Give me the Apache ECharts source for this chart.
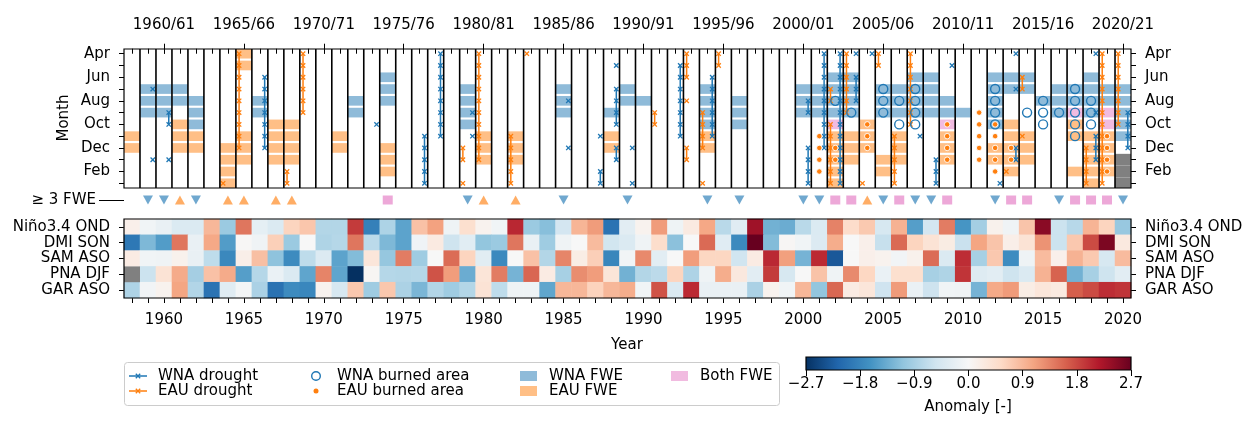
<!DOCTYPE html>
<html><head><meta charset="utf-8">
<script src="https://cdn.jsdelivr.net/npm/echarts@6/dist/echarts.min.js"></script>
<style>html,body{margin:0;padding:0;background:#fff}#c{width:1253px;height:427px}</style>
</head><body><div id="c"></div>
<script>
// ---------------- DATA ----------------
const years = [1958,1959,1960,1961,1962,1963,1964,1965,1966,1967,1968,1969,1970,1971,1972,1973,1974,1975,1976,1977,1978,1979,1980,1981,1982,1983,1984,1985,1986,1987,1988,1989,1990,1991,1992,1993,1994,1995,1996,1997,1998,1999,2000,2001,2002,2003,2004,2005,2006,2007,2008,2009,2010,2011,2012,2013,2014,2015,2016,2017,2018,2019,2020];
const seasonTicks = [1960,1965,1970,1975,1980,1985,1990,1995,2000,2005,2010,2015,2020];
const monthLabels = ['Apr','May','Jun','Jul','Aug','Sep','Oct','Nov','Dec','Jan','Feb','Mar'];
const monthTicks = [0,1,2,3,4,5,6,7,8,9,10,11];
const monthLabelTicks = [0,2,4,6,8,10];
const indexRows = ['Niño3.4 OND','DMI SON','SAM ASO','PNA DJF','GAR ASO'];
const cbTicks = [-2.7,-1.8,-0.9,0,0.9,1.8,2.7];

// month index: 0 = Apr ... 11 = Mar
const wnaFWE = [[1959,[3,4,5]],[1960,[3,4,5]],[1961,[3,4]],[1962,[4,5,6]],[1966,[4,5]],[1972,[4,5]],[1974,[2,3,4]],
  [1979,[3,4,5,6]],[1985,[3,4,5]],[1988,[5]],[1989,[3,4]],[1990,[4]],[1994,[3,4,5,6]],[1996,[4,5,6]],
  [2000,[3,4,5]],[2001,[3,4,5]],[2002,[2,3,4,5]],[2003,[2,3,4,5]],[2005,[3,4,5]],[2006,[3,4,5]],
  [2007,[2,3,4,5]],[2008,[2,3,4,5]],[2009,[4,5]],[2010,[5]],[2012,[2,3,4,5,6]],[2013,[2,3]],[2014,[2,3]],
  [2015,[4]],[2016,[3,4,5]],[2017,[3,4]],[2018,[2,3,4,5]],[2019,[3,4]],[2020,[3,4,5,6,7]]];
const eauFWE = [[1958,[7,8]],[1961,[6,7,8]],[1962,[7,8]],[1964,[8,9,10,11]],[1965,[0,1,7,8,9]],[1967,[6,7,8,9]],
  [1968,[6,7,8,9]],[1971,[7,8]],[1974,[8,9,10]],[1980,[7,8,9]],[1982,[7,8,9]],[1988,[7,8]],[1994,[7,8]],
  [2002,[7,8,9,10,11]],[2003,[7,8,9]],[2004,[6,7,8]],[2005,[9,10]],[2006,[7,8,9]],[2009,[7,8,9]],
  [2012,[8,9]],[2013,[6,7,8,9,10]],[2014,[7,8,9]],[2017,[6,7,10]],[2018,[7,8,9,10,11]],[2019,[7,8,9,10]]];
const bothFWE = [[2002,[6]],[2009,[6]],[2017,[5]],[2019,[5,6]]];
const noData = [[2020,[9,10,11]]];

// drought segments: [season, first month, last month]
const wnaDrought = [[1959,3,3],[1959,9,9],[1960,5,6],[1960,9,9],[1966,2,8],[1973,6,6],[1976,7,11],[1977,0,7],
  [1979,5,5],[1979,7,7],[1985,4,4],[1985,8,8],[1987,7,7],[1987,10,11],[1988,1,1],[1988,3,6],[1988,8,9],
  [1989,8,8],[1989,11,11],[1992,1,7],[1994,2,7],[2000,4,5],[2000,8,11],[2001,0,8],[2002,0,11],[2003,0,0],
  [2003,2,4],[2004,0,0],[2007,7,7],[2008,9,11],[2009,1,1],[2012,11,11],[2013,0,0],[2013,3,3],[2013,8,9],
  [2018,0,0],[2018,5,5],[2018,7,9],[2020,5,8]];
const eauDrought = [[1964,11,11],[1965,0,8],[1968,10,11],[1969,0,5],[1979,8,9],[1979,11,11],[1980,0,9],
  [1982,7,11],[1983,0,0],[1991,5,6],[1993,0,2],[1993,4,4],[1993,8,9],[1994,5,8],[1994,11,11],[1995,0,1],
  [2002,3,4],[2002,6,11],[2003,0,5],[2004,11,11],[2005,0,1],[2006,7,11],[2007,0,6],[2013,10,10],
  [2014,2,3],[2014,7,7],[2018,8,11],[2019,0,11],[2020,0,6]];

const wnaBurned = [[2002,[4]],[2003,[5]],[2005,[3,4,5]],[2006,[4,6]],[2007,[3,4,5,6]],[2012,[3,4,5,6]],
  [2014,[5]],[2015,[4,5,6]],[2016,[5]],[2017,[3,4,5,6,7]],[2018,[4,5,6]]];
const eauBurned = [[2001,[7,8,9,10]],[2002,[8,9]],[2004,[6,7,8]],[2009,[6,7,8,9]],[2011,[5,6,7,8,9]],
  [2012,[6,7,8,9,10]],[2013,[8,9]],[2019,[7,8,9,10]]];

const wna3 = [1959,1960,1962,1979,1985,1989,1994,1996,2000,2001,2005,2007,2008,2012,2016,2020];
const eau3 = [1961,1964,1965,1967,1968,1980,1982,2004];
const both3 = [1974,2002,2003,2006,2009,2013,2014,2017,2018,2019];

const nino = [0.15,-0.1,-0.2,-0.4,-0.4,0.9,-1.0,1.45,-0.25,-0.4,0.6,0.75,-0.8,-0.8,1.9,-1.85,-0.85,-1.45,0.8,1.1,-0.13,0.45,0.1,-0.1,2.05,-1.0,-1.15,-0.5,0.92,1.15,-2.0,-0.3,0.1,1.15,-0.13,0.25,1.05,-0.75,-0.33,2.3,-1.3,-1.35,-0.75,-0.4,1.35,0.5,0.72,-0.45,0.95,-1.5,-0.5,1.4,-1.6,-0.93,0.12,-0.12,0.77,2.45,-0.58,-0.76,0.93,0.6,-1.03];
const dmi = [-1.95,-1.22,-1.52,1.45,-0.2,1.04,-1.52,0.02,-0.12,0.65,-1.0,0,-0.83,-0.78,1.45,-0.73,-1.22,-1.45,-0.11,0.25,-0.56,-0.31,-1.07,-1.0,1.45,-0.2,-0.97,-0.12,0,0.86,-0.52,-0.4,-0.12,0.48,-1.12,0,1.54,-0.33,-1.73,2.7,-1.18,0.03,-0.1,-0.38,1.0,0,0.15,-0.63,1.54,0.6,0.38,0.22,-0.6,1.07,0.77,0.17,0.38,1.22,-0.58,0.73,1.78,2.55,0.27];
const sam = [0.23,-0.1,-0.12,0.12,-0.2,-0.7,-1.75,0.17,0.82,-1.1,-1.72,-0.7,-0.38,-1.45,-1.18,0.33,-1.05,1.4,-0.97,0,1.53,0.6,-0.31,-1.74,0,0.8,-0.8,1.33,0.2,0.66,-1.78,-0.08,1.3,-0.3,0,1.14,0.58,0.58,-0.54,0.23,2.04,1.12,-1.27,2.03,-2.3,0,0.15,0.1,-0.08,0.12,1.53,-0.4,2.0,-0.9,0.73,-1.7,-0.13,0.86,0.15,0.95,0.72,-0.45,0.86];
const pna = [null,-0.58,0.38,1.02,-0.92,0.8,1.02,-1.5,-0.78,-0.18,-0.4,-1.43,1.34,-1.43,-2.7,0.04,-0.78,-0.8,-0.78,1.72,1.14,-1.35,0.35,1.4,-1.27,1.57,0.23,-0.9,1.27,1.14,0.35,-1.3,-0.8,-0.72,0.6,-0.84,-0.12,1.0,0.28,-0.3,1.9,-0.45,0,0.78,-0.12,1.29,0.57,-0.18,0.45,0.45,-0.9,-0.83,1.95,-0.35,-0.3,-0.56,-0.4,0.95,1.6,-1.3,-0.9,-0.56,-0.3];
const gar = [-0.84,-0.08,0.1,1.07,-0.81,-2.0,-0.33,-0.05,-0.87,-2.02,-1.72,-1.76,0.1,-0.45,0.73,-0.97,0.74,-0.86,-1.24,-0.81,-0.97,-0.8,0.38,-0.7,-0.13,-0.13,-1.42,0.9,0.9,0.62,0.9,1.0,-0.1,1.72,-0.4,2.03,-0.2,-0.2,-0.2,-0.87,0.1,-0.1,0.9,-1.07,1.56,0.23,0.33,-0.55,1.16,-0.18,-0.57,-0.1,-0.12,-1.27,1.03,1.16,0.2,0.33,0.26,1.63,1.78,2.0,1.95];
const indexValues = [nino, dmi, sam, pna, gar];

// ---------------- STYLE ----------------
const FONT = 'DejaVu Sans', FS = 15;
const C0 = '#1f77b4', C1 = '#ff7f0e';
const WNA_FILL = '#8fbbd9', EAU_FILL = '#ffbf86', BOTH_FILL = '#f1bbe0';
const RDBU_R = ['#053061','#2166ac','#4393c3','#92c5de','#d1e5f0','#f7f7f7','#fddbc7','#f4a582','#d6604d','#b2182b','#67001f'];
const L = 124, R = 122;
const lab = {fontFamily: FONT, fontSize: FS, color: '#000'};

function flatCells(list){ const out=[]; list.forEach(([y,ms])=>ms.forEach(m=>out.push([y,m]))); return out; }
function csRect(cs){ return {x:cs.x, y:cs.y, width:cs.width, height:cs.height}; }

function cellSeries(list, color, half){
  return {type:'custom', xAxisIndex:0, yAxisIndex:0, data:flatCells(list), z:2, silent:true,
    renderItem(params, api){
      const y=api.value(0), m=api.value(1);
      const p0=api.coord([y-0.5, m-half]), p1=api.coord([y+0.5, m+half]);
      const r = echarts.graphic.clipRectByRect({x:Math.min(p0[0],p1[0]), y:Math.min(p0[1],p1[1]),
        width:Math.abs(p1[0]-p0[0]), height:Math.abs(p1[1]-p0[1])}, csRect(params.coordSys));
      return r ? {type:'rect', shape:r, style:{fill:color}} : null;
    }};
}
function droughtSeries(list, color, off){
  return {type:'custom', xAxisIndex:0, yAxisIndex:0, data:list, z:5, silent:true,
    renderItem(params, api){
      const y=api.value(0), m0=api.value(1), m1=api.value(2);
      const pts=[]; for(let m=m0;m<=m1;m++) pts.push(api.coord([y+off, m]));
      const ch=[];
      if(pts.length>1) ch.push({type:'polyline', shape:{points:pts}, style:{stroke:color, lineWidth:1.5, fill:null}});
      const s=2.2;
      pts.forEach(p=>{
        ch.push({type:'line', shape:{x1:p[0]-s,y1:p[1]-s,x2:p[0]+s,y2:p[1]+s}, style:{stroke:color,lineWidth:1.3}});
        ch.push({type:'line', shape:{x1:p[0]-s,y1:p[1]+s,x2:p[0]+s,y2:p[1]-s}, style:{stroke:color,lineWidth:1.3}});
      });
      return {type:'group', children:ch};
    }};
}
function frameSeries(xi, yi){
  return {type:'custom', xAxisIndex:xi, yAxisIndex:yi, data:[[0,0]], z:20, silent:true,
    renderItem(params){ const c=params.coordSys;
      return {type:'rect', shape:{x:c.x, y:c.y, width:c.width, height:c.height}, style:{fill:null, stroke:'#000', lineWidth:1.2}}; }};
}

const series = [];
series.push(cellSeries(wnaFWE, WNA_FILL, 0.41));
series.push(cellSeries(eauFWE, EAU_FILL, 0.41));
series.push(cellSeries(bothFWE, BOTH_FILL, 0.41));
series.push(cellSeries(noData, '#808080', 0.5));
series.push(droughtSeries(wnaDrought, C0, 0.3));
series.push(droughtSeries(eauDrought, C1, -0.3));
series.push({type:'scatter', xAxisIndex:0, yAxisIndex:0, data:flatCells(wnaBurned), symbol:'circle', symbolSize:9, z:6, silent:true,
  itemStyle:{color:'rgba(0,0,0,0)', borderColor:C0, borderWidth:1.4, opacity:1}});
series.push({type:'scatter', xAxisIndex:0, yAxisIndex:0, data:flatCells(eauBurned), symbol:'circle', symbolSize:5.5, z:7, silent:true,
  itemStyle:{color:C1, borderColor:'#fff', borderWidth:0.9, opacity:1}});
// season separators
series.push({type:'custom', xAxisIndex:0, yAxisIndex:0, data:years.slice(0,-1).map(y=>[y,0]), z:10, silent:true,
  renderItem(params, api){ const x=api.coord([api.value(0)+0.5, 0])[0]; const c=params.coordSys;
    return {type:'line', shape:{x1:x,y1:c.y,x2:x,y2:c.y+c.height}, style:{stroke:'#000', lineWidth:1.6}}; }});
series.push(frameSeries(0,0));
// >= 3 FWE markers
series.push({type:'scatter', xAxisIndex:2, yAxisIndex:2, data:wna3.map(y=>[y,0.5]), symbol:'triangle', symbolRotate:180, symbolSize:[10,9], silent:true,
  itemStyle:{color:'rgba(31,119,180,0.8)'}});
series.push({type:'scatter', xAxisIndex:2, yAxisIndex:2, data:eau3.map(y=>[y,0.5]), symbol:'triangle', symbolSize:[10,9], silent:true,
  itemStyle:{color:'rgba(255,127,14,0.8)'}});
series.push({type:'scatter', xAxisIndex:2, yAxisIndex:2, data:both3.map(y=>[y,0.5]), symbol:'rect', symbolSize:[10,9], silent:true,
  itemStyle:{color:'rgba(227,119,194,0.8)'}});
// heatmap
const heatData=[], nanData=[];
indexValues.forEach((arr,r)=>arr.forEach((v,i)=>{ if(v===null) nanData.push([i,r]); else heatData.push([i,r,v]); }));
const HEAT = series.length;
series.push({type:'heatmap', xAxisIndex:3, yAxisIndex:3, data:heatData, silent:true, itemStyle:{borderWidth:0}});
series.push({type:'custom', xAxisIndex:3, yAxisIndex:3, data:nanData, silent:true, z:3,
  renderItem(params, api){ const c=api.coord([api.value(0), api.value(1)]); const s=api.size([1,1]);
    return {type:'rect', shape:{x:c[0]-s[0]/2, y:c[1]-s[1]/2, width:s[0], height:s[1]}, style:{fill:'#808080'}}; }});
series.push(frameSeries(3,3));
// colorbar
series.push({type:'custom', xAxisIndex:4, yAxisIndex:5, data:[[0,0]], silent:true, z:3,
  renderItem(params){ const c=params.coordSys;
    const stops = RDBU_R.map((col,k)=>({offset:k/(RDBU_R.length-1), color:col}));
    return {type:'rect', shape:{x:c.x,y:c.y,width:c.width,height:c.height},
      style:{fill:new echarts.graphic.LinearGradient(0,0,1,0,stops), stroke:'#000', lineWidth:1.2}}; }});

const fmtNum = v => (Math.abs(v)<1e-9 ? '0.0' : (v<0 ? '\u2212'+Math.abs(v).toFixed(1) : v.toFixed(1)));

// ---------------- LEGEND (graphic) ----------------
function xMark(x,y,color){ const s=2.2; return [
  {type:'line', shape:{x1:x-s,y1:y-s,x2:x+s,y2:y+s}, style:{stroke:color,lineWidth:1.3}},
  {type:'line', shape:{x1:x-s,y1:y+s,x2:x+s,y2:y-s}, style:{stroke:color,lineWidth:1.3}}]; }
const FNT = FS+'px "'+FONT+'"';
function gtext(x,y,t,align,rot){ const g = {type:'text', x, y, style:{text:t, font:FNT, fill:'#000', align:align||'left', verticalAlign:'middle'}}; if(rot) g.rotation=rot; return g; }
const ry1=376, ry2=391;
const graphic = [
  {type:'rect', shape:{x:124.5,y:362.5,width:655,height:43,r:3}, style:{fill:'#fff', stroke:'#cccccc', lineWidth:1}},
  {type:'line', shape:{x1:129,y1:ry1,x2:147,y2:ry1}, style:{stroke:C0,lineWidth:1.5}}, ...xMark(138,ry1,C0),
  gtext(158,ry1,'WNA drought'),
  {type:'line', shape:{x1:129,y1:ry2,x2:147,y2:ry2}, style:{stroke:C1,lineWidth:1.5}}, ...xMark(138,ry2,C1),
  gtext(158,ry2,'EAU drought'),
  {type:'circle', shape:{cx:316,cy:ry1,r:4.3}, style:{fill:null, stroke:C0, lineWidth:1.4}},
  gtext(337,ry1,'WNA burned area'),
  {type:'circle', shape:{cx:316,cy:ry2,r:2.5}, style:{fill:C1}},
  gtext(337,ry2,'EAU burned area'),
  {type:'rect', shape:{x:520,y:ry1-5,width:17,height:10}, style:{fill:WNA_FILL}},
  gtext(549,ry1,'WNA FWE'),
  {type:'rect', shape:{x:520,y:ry2-5,width:17,height:10}, style:{fill:EAU_FILL}},
  gtext(549,ry2,'EAU FWE'),
  {type:'rect', shape:{x:671,y:ry1-5,width:17,height:10}, style:{fill:BOTH_FILL}},
  gtext(700,ry1,'Both FWE'),
  gtext(64,118,'Month','center',Math.PI/2),
  gtext(627,345,'Year','center'),
  gtext(968,407,'Anomaly [-]','center')
];

const tick = {color:'#000', width:1};
const option = {
  animation:false,
  textStyle:{fontFamily:FONT, fontSize:FS, color:'#000'},
  grid:[
    {left:L, right:R, top:49, height:139},
    {left:L, right:R, top:194, height:12},
    {left:L, right:R, top:219, height:79},
    {left:806, right:R, top:357, height:13}
  ],
  xAxis:[
    {gridIndex:0, type:'value', position:'top', min:1957.5, max:2020.5, axisLine:{show:false},
      axisTick:{show:true, length:5, customValues:years, lineStyle:tick}, axisLabel:{show:false}, splitLine:{show:false}},
    {gridIndex:0, type:'value', position:'top', min:1957.5, max:2020.5, axisLine:{show:false},
      axisTick:{show:true, length:10, customValues:seasonTicks, lineStyle:tick},
      axisLabel:Object.assign({customValues:seasonTicks, margin:16, formatter:v=>v+'/'+String((v+1)%100).padStart(2,'0')}, lab),
      splitLine:{show:false}},
    {gridIndex:1, type:'value', min:1957.5, max:2020.5, show:false},
    {gridIndex:2, type:'category', data:years.map(String), position:'bottom', axisLine:{show:false},
      axisTick:{show:true, alignWithLabel:true, interval:0, length:5, lineStyle:tick},
      axisLabel:Object.assign({interval:(i,v)=>(+v)%5===0, margin:15}, lab), splitLine:{show:false}},
    {gridIndex:3, type:'value', min:-2.7, max:2.7, axisLine:{show:false},
      axisTick:{show:true, length:6, customValues:cbTicks, lineStyle:tick},
      axisLabel:Object.assign({customValues:cbTicks, margin:7, formatter:fmtNum}, lab), splitLine:{show:false}}
  ],
  yAxis:[
    {gridIndex:0, type:'value', min:-0.4, max:11.4, inverse:true, axisLine:{show:false},
      axisTick:{show:true, length:5, customValues:monthTicks, lineStyle:tick},
      axisLabel:Object.assign({customValues:monthLabelTicks, margin:14, formatter:v=>monthLabels[v]}, lab), splitLine:{show:false}},
    {gridIndex:0, type:'value', position:'right', min:-0.4, max:11.4, inverse:true, axisLine:{show:false},
      axisTick:{show:true, length:5, customValues:monthTicks, lineStyle:tick},
      axisLabel:Object.assign({customValues:monthLabelTicks, margin:14, formatter:v=>monthLabels[v]}, lab), splitLine:{show:false}},
    {gridIndex:1, type:'value', min:0, max:1, axisLine:{show:false},
      axisTick:{show:true, length:25, customValues:[0.5], lineStyle:tick},
      axisLabel:Object.assign({customValues:[0.5], margin:28, formatter:()=>'\u2265 3 FWE'}, lab), splitLine:{show:false}},
    {gridIndex:2, type:'category', data:indexRows, inverse:true, axisLine:{show:false},
      axisTick:{show:true, alignWithLabel:true, interval:0, length:5, lineStyle:tick},
      axisLabel:Object.assign({interval:0, margin:14}, lab), splitLine:{show:false}},
    {gridIndex:2, type:'category', data:indexRows, inverse:true, position:'right', axisLine:{show:false},
      axisTick:{show:true, alignWithLabel:true, interval:0, length:5, lineStyle:tick},
      axisLabel:Object.assign({interval:0, margin:14}, lab), splitLine:{show:false}},
    {gridIndex:3, type:'value', min:0, max:1, show:false}
  ],
  visualMap:{type:'continuous', show:false, min:-2.7, max:2.7, seriesIndex:HEAT, dimension:2, inRange:{color:RDBU_R}},
  series,
  graphic
};
const chart = echarts.init(document.getElementById('c'), null, {renderer:'canvas'});
chart.setOption(option);
</script></body></html>
